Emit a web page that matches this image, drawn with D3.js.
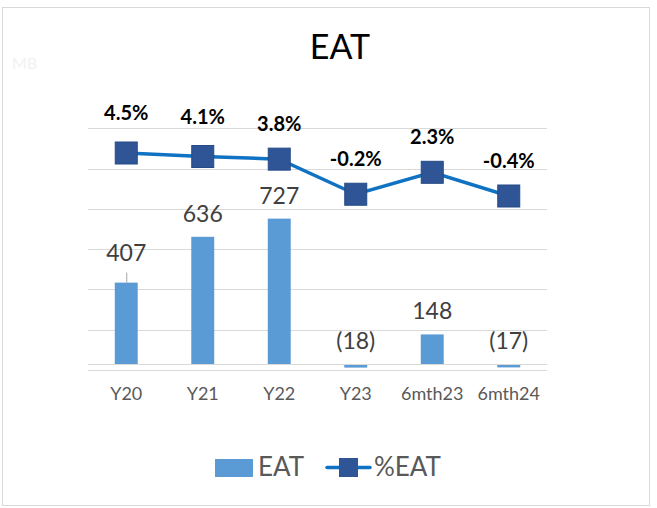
<html>
<head>
  <script src="https://d3js.org/d3.v7.min.js"></script>
  <style>
    body { margin: 0; background: #fff; }
    text { font-family: Lato, "Open Sans", sans-serif; }
  </style>
</head>
<body>
  <svg width="657" height="508"></svg>
  <script>

  var categories = ["Y20", "Y21", "Y22", "Y23", "6mth23", "6mth24"];
  var eat = [407, 636, 727, -18, 148, -17];
  var eatPct = [4.5, 4.1, 3.8, -0.2, 2.3, -0.4];
  var eatLabels = ["407", "636", "727", "(18)", "148", "(17)"];
  var pctLabels = ["4.5%", "4.1%", "3.8%", "-0.2%", "2.3%", "-0.4%"];

  var svg = d3.select("svg");

  // outer frame
  svg.append("rect")
    .attr("x", 2.5).attr("y", 7.5)
    .attr("width", 647).attr("height", 498)
    .attr("fill", "#fff")
    .attr("stroke", "#d9d9d9");

  svg.append("text")
    .attr("x", 12).attr("y", 69)
    .attr("font-size", 16)
    .attr("fill", "#f2f2f2")
    .text("MB");

  svg.append("text")
    .attr("x", 340).attr("y", 59)
    .attr("text-anchor", "middle")
    .attr("font-size", 34)
    .attr("fill", "#000")
    .text("EAT");

  var left = 88, right = 547;

  var x = d3.scaleBand().domain(categories).range([left, right]).paddingInner(0.7).paddingOuter(0.35);
  var xc = function(c) { return x(c) + x.bandwidth() / 2; };

  // primary axis: 0.2 px per unit, zero at 364
  var y = d3.scaleLinear().domain([0, 1000]).range([364, 164]);
  // secondary axis for %
  var y2 = d3.scaleLinear().domain([-0.4, 4.5]).range([196, 153]);

  // gridlines
  var grid = d3.range(7).map(function(i) { return 370 - i * 40.3; });
  svg.append("g").selectAll("line")
    .data(grid)
    .enter().append("line")
    .attr("x1", left).attr("x2", right)
    .attr("y1", function(d) { return Math.round(d) + 0.5; })
    .attr("y2", function(d) { return Math.round(d) + 0.5; })
    .attr("stroke", "#d9d9d9");

  // bars
  svg.append("g").selectAll("rect")
    .data(eat)
    .enter().append("rect")
    .attr("x", function(d, i) { return x(categories[i]); })
    .attr("y", function(d) { return Math.min(y(d), y(0)); })
    .attr("width", x.bandwidth())
    .attr("height", function(d) { return Math.abs(y(d) - y(0)); })
    .attr("fill", "#5b9bd5");

  // zero axis line
  svg.append("line")
    .attr("x1", left).attr("x2", right)
    .attr("y1", y(0) + 0.5).attr("y2", y(0) + 0.5)
    .attr("stroke", "#d9d9d9");

  // bar labels
  svg.append("g").selectAll("text")
    .data(eat)
    .enter().append("text")
    .attr("x", function(d, i) { return xc(categories[i]); })
    .attr("y", function(d, i) { return (d < 0 ? y(0) : y(d)) - (i == 0 ? 22 : 15); })
    .attr("text-anchor", "middle")
    .attr("font-size", 23)
    .attr("fill", "#404040")
    .text(function(d, i) { return eatLabels[i]; });

  // leader line for first label
  svg.append("line")
    .attr("x1", xc(categories[0]) + 0.5).attr("x2", xc(categories[0]) + 0.5)
    .attr("y1", y(eat[0]) - 10).attr("y2", y(eat[0]))
    .attr("stroke", "#a6a6a6");

  // % line
  var line = d3.line()
    .x(function(d, i) { return xc(categories[i]); })
    .y(function(d) { return y2(d); });

  svg.append("path")
    .datum(eatPct)
    .attr("d", line)
    .attr("fill", "none")
    .attr("stroke", "#0f72c2")
    .attr("stroke-width", 3.5);

  svg.append("g").selectAll("rect")
    .data(eatPct)
    .enter().append("rect")
    .attr("x", function(d, i) { return xc(categories[i]) - 11; })
    .attr("y", function(d) { return y2(d) - 11; })
    .attr("width", 22).attr("height", 22)
    .attr("fill", "#2f5597")
    .attr("stroke", "#264a86")
    .attr("stroke-width", 1);

  // % labels, the two highest ones sit a bit higher
  svg.append("g").selectAll("text")
    .data(eatPct)
    .enter().append("text")
    .attr("x", function(d, i) { return xc(categories[i]); })
    .attr("y", function(d) { return y2(d) - (d > 4 ? 33 : 28); })
    .attr("text-anchor", "middle")
    .attr("font-size", 20)
    .attr("font-weight", "bold")
    .attr("fill", "#000")
    .text(function(d, i) { return pctLabels[i]; });

  // category labels
  svg.append("g").selectAll("text")
    .data(categories)
    .enter().append("text")
    .attr("x", function(d) { return xc(d); })
    .attr("y", 400)
    .attr("text-anchor", "middle")
    .attr("font-size", 18)
    .attr("fill", "#595959")
    .text(function(d) { return d; });

  // legend
  var lg = svg.append("g");
  lg.append("rect")
    .attr("x", 215).attr("y", 459)
    .attr("width", 38).attr("height", 18)
    .attr("fill", "#5b9bd5");
  lg.append("text")
    .attr("x", 258).attr("y", 476)
    .attr("font-size", 26)
    .attr("fill", "#595959")
    .text("EAT");
  lg.append("line")
    .attr("x1", 327).attr("x2", 370)
    .attr("y1", 467.5).attr("y2", 467.5)
    .attr("stroke", "#0f72c2")
    .attr("stroke-width", 3.5)
    .attr("stroke-linecap", "round");
  lg.append("rect")
    .attr("x", 339).attr("y", 458)
    .attr("width", 19).attr("height", 19)
    .attr("fill", "#2f5597");
  lg.append("text")
    .attr("x", 374).attr("y", 476)
    .attr("font-size", 26)
    .attr("fill", "#595959")
    .text("%EAT");

  </script>
</body>
</html>
